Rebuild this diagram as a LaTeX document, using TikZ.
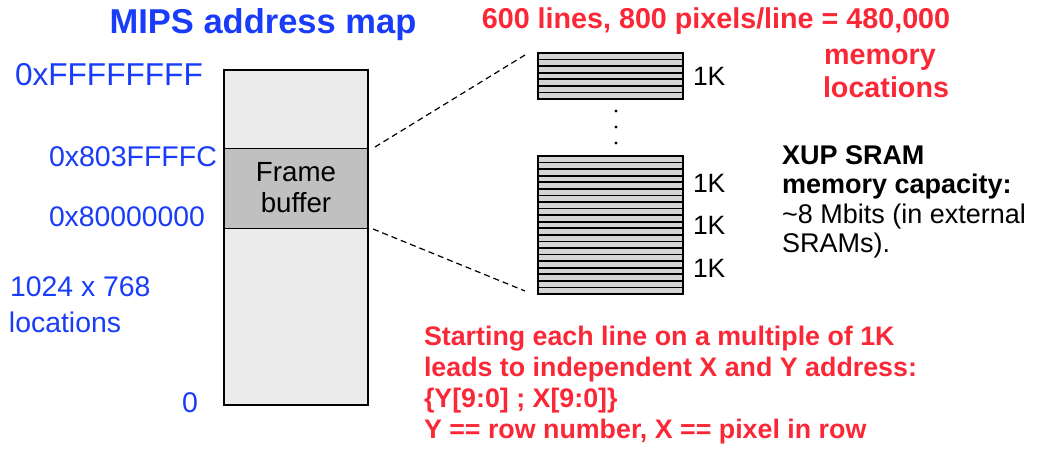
\documentclass[tikz,border=0pt]{standalone}
\usepackage{fontspec}
\setmainfont{Liberation Sans}
\definecolor{mapblue}{RGB}{25,60,250}
\definecolor{notered}{RGB}{250,40,55}
\definecolor{regionfill}{RGB}{235,235,235}
\definecolor{fbfill}{RGB}{192,192,192}
\definecolor{stripfill}{RGB}{212,212,212}
\newcommand{\fs}[1]{\fontsize{#1}{#1}\selectfont}
\tikzset{
  txt/.style={inner sep=0pt, outer sep=0pt},
  addr/.style={txt, anchor=base west, text=mapblue},
  onek/.style={txt, anchor=base west, font=\fs{26.5}},
  region/.style={draw=black, line width=1.4pt},
  zoomline/.style={draw=black, line width=1.2pt, dash pattern=on 6pt off 4pt},
  strip/.style={draw=black, line width=1.6pt, fill=stripfill},
}
% one block of seven horizontal strips, top-left corner at (#1,#2)
\newcommand{\stripblock}[2]{%
  \foreach \k in {0,...,6}{%
    \draw[strip] (#1,{#2+\k*46/7}) rectangle (#1+145,{#2+(\k+1)*46/7});
  }%
  \draw[line width=1.6pt] (#1,#2) rectangle (#1+145,#2+46);
}
\begin{document}
\begin{tikzpicture}[x=1pt,y=-1pt]
\useasboundingbox (0,0) rectangle (1044,454);

% heading
\node[txt, anchor=base, text=mapblue, font=\fs{34.5}\bfseries] (title) at (263,34) {MIPS address map};

% address space column
\draw[region, fill=regionfill] (224,70) rectangle (368,405);
\draw[region, fill=fbfill] (224,148.5) rectangle (368,228.5);
\coordinate (fbtop) at (375,147);
\coordinate (fbbot) at (373,229);
\node[txt, anchor=base, font=\fs{27.7}] (frame) at (296,182) {Frame};
\node[txt, anchor=base, font=\fs{27.7}] (buffer) at (296,213) {buffer};

% address labels
\node[addr, font=\fs{31.6}] (top) at (15,86) {0xFFFFFFFF};
\node[addr, font=\fs{28.5}] (fbhi) at (49,167) {0x803FFFFC};
\node[addr, font=\fs{28.3}] (fblo) at (49,227) {0x80000000};
\node[addr, font=\fs{28.4}] (size1) at (10,297) {1024 x 768};
\node[addr, font=\fs{28.4}] (size2) at (9,332) {locations};
\node[addr, font=\fs{28.5}] (zero) at (182,412) {0};

% stacked 1K lines
\stripblock{538}{53}
\stripblock{538}{156}
\stripblock{538}{202}
\stripblock{538}{248}
\coordinate (stacktop) at (525,55);
\coordinate (stackbot) at (525,291);
\draw[zoomline] (fbtop) -- (stacktop);
\draw[zoomline] (fbbot) -- (stackbot);

\foreach \yy in {111,127,143} \fill (616,\yy) circle (1.6);

\node[onek] (k1) at (693,86) {1K};
\node[onek] (k2) at (693,193) {1K};
\node[onek] (k3) at (693,235) {1K};
\node[onek] (k4) at (693,278) {1K};

% capacity note
\node[txt, anchor=base, text=notered, font=\fs{28.7}\bfseries] (cap1) at (716,29) {600 lines, 800 pixels/line = 480,000};
\node[txt, anchor=base, text=notered, font=\fs{28.7}\bfseries] (cap2) at (880,65) {memory};
\node[txt, anchor=base, text=notered, font=\fs{28.7}\bfseries] (cap3) at (886,98) {locations};

% SRAM note
\node[txt, anchor=base west, font=\fs{27}\bfseries] (x1) at (782,165) {XUP SRAM};
\node[txt, anchor=base west, font=\fs{27}\bfseries] (x2) at (782,194) {memory capacity:};
\node[txt, anchor=base west, font=\fs{27}] (x3) at (782,224) {\char`\~8 Mbits (in external};
\node[txt, anchor=base west, font=\fs{27}] (x4) at (782,253) {SRAMs).};

% addressing note
\node[txt, anchor=base west, text=notered, font=\fs{26.8}\bfseries] (a1) at (424,345) {Starting each line on a multiple of 1K};
\node[txt, anchor=base west, text=notered, font=\fs{26.8}\bfseries] (a2) at (424,376) {leads to independent X and Y address:};
\node[txt, anchor=base west, text=notered, font=\fs{26.8}\bfseries] (a3) at (424,407) {\{Y[9:0] ; X[9:0]\}};
\node[txt, anchor=base west, text=notered, font=\fs{26.8}\bfseries] (a4) at (424,438) {Y == row number, X == pixel in row};
\end{tikzpicture}
\end{document}
